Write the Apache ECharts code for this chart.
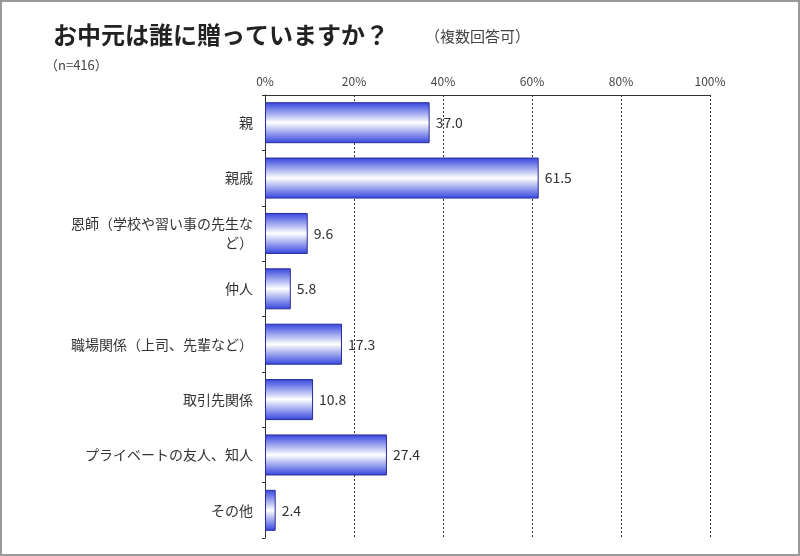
<!DOCTYPE html>
<html><head><meta charset="utf-8">
<script src="https://cdn.jsdelivr.net/npm/echarts@6/dist/echarts.min.js"></script>
<style>html,body{margin:0;background:#fff}#c{width:800px;height:556px;box-sizing:border-box;border:2px solid #999}</style>
</head><body><div id="c"></div>
<script>
// categories / values, top to bottom
const categories = ['親', '親戚', '恩師（学校や習い事の先生な\nど）', '仲人', '職場関係（上司、先輩など）', '取引先関係', 'プライベートの友人、知人', 'その他'];
const values = [37.0, 61.5, 9.6, 5.8, 17.3, 10.8, 27.4, 2.4];

const chart = echarts.init(document.getElementById('c'));
const font = '"Noto Sans CJK JP", sans-serif';
chart.setOption({
  animation: false,
  textStyle: { fontFamily: font },
  title: [
    { text: 'お中元は誰に贈っていますか？', left: 46, top: 16, textStyle: { fontSize: 24, fontWeight: 'bold', color: '#222', fontFamily: font } },
    { text: '（複数回答可）', left: 418, top: 22, textStyle: { fontSize: 15, fontWeight: 'normal', color: '#444', fontFamily: font } },
    { text: '（n=416）', left: 38, top: 52, textStyle: { fontSize: 13, fontWeight: 'normal', color: '#444', fontFamily: font } }
  ],
  grid: { left: 263, right: 88, top: 93, bottom: 16 },
  xAxis: {
    type: 'value', min: 0, max: 100, interval: 20, position: 'top',
    axisLabel: { formatter: '{value}%', color: '#444', fontSize: 12 },
    axisLine: { show: true, lineStyle: { color: '#333' } },
    axisTick: { show: false },
    splitLine: { lineStyle: { color: '#333', type: [2, 2] } }
  },
  yAxis: {
    type: 'category', inverse: true, data: categories,
    axisLine: { lineStyle: { color: '#333' } },
    axisTick: { show: true, length: 3, lineStyle: { color: '#333' } },
    axisLabel: { color: '#333', fontSize: 14, margin: 12, lineHeight: 19 }
  },
  series: [{
    type: 'bar', data: values, barWidth: 41,
    itemStyle: {
      borderColor: '#2a2a9a', borderWidth: 1,
      color: new echarts.graphic.LinearGradient(0, 0, 0, 1, [
        { offset: 0, color: '#3344dd' }, { offset: 0.5, color: '#ffffff' }, { offset: 1, color: '#3344dd' }
      ])
    },
    label: { show: true, position: 'right', formatter: p => p.value.toFixed(1), color: '#333', fontSize: 14, distance: 6 }
  }]
});
</script></body></html>
